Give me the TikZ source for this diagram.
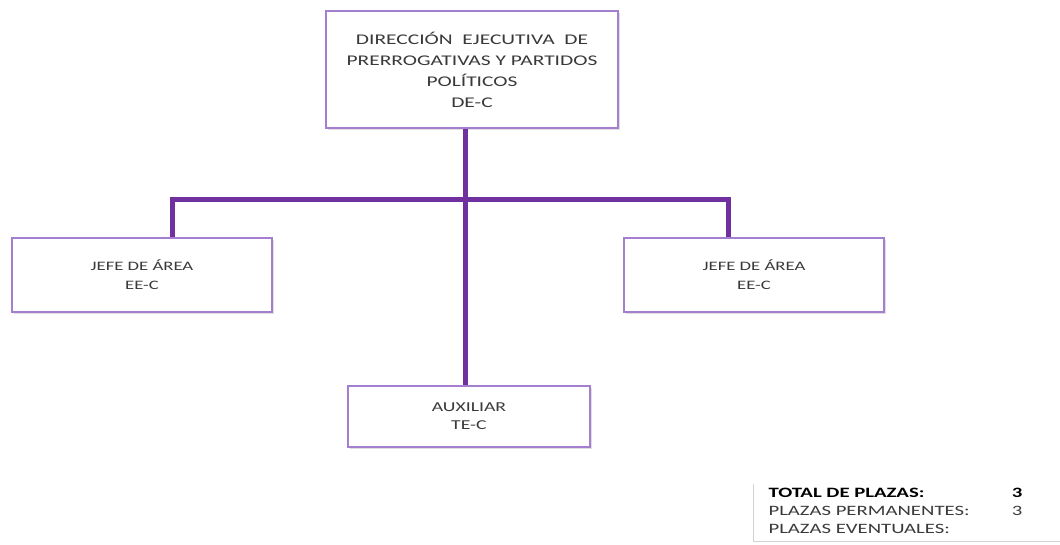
\documentclass[tikz,border=0pt]{standalone}
\usepackage{fontspec}
\setmainfont{Carlito}
\newfontfamily\widefont[FakeStretch=1.45]{Carlito}
\usetikzlibrary{shadows}
\definecolor{boxline}{HTML}{A57FCF}
\definecolor{conncol}{HTML}{7030A0}
\definecolor{txt}{HTML}{3A3A3A}
\tikzset{
  orgbox/.style={draw=boxline, line width=1.2pt, fill=white, align=center, text=txt,
    inner sep=2pt, drop shadow={opacity=0.25, shadow xshift=1.5pt, shadow yshift=-1.5pt}},
  conn/.style={draw=conncol, line width=5pt},
  sumtext/.style={font=\widefont\fontsize{14.3}{15}\selectfont, text=txt},
  sumbold/.style={font=\widefont\fontsize{14.3}{15}\selectfont\bfseries, text=black},
}
\begin{document}
\begin{tikzpicture}[x=1pt,y=-1pt]
\useasboundingbox (0,0) rectangle (1060,544);
\fill[white] (0,0) rectangle (1060,544);
\coordinate (spine) at (465,0);
\coordinate (lx) at (172,199);
\coordinate (rx) at (728,199);
\node[orgbox, minimum width=292pt, minimum height=117pt, font=\widefont\fontsize{14.8}{21}\selectfont] (top) at (472,69.5)
  {DIRECCIÓN \ EJECUTIVA \ DE\\PRERROGATIVAS Y PARTIDOS\\POLÍTICOS\\DE-C};
\node[orgbox, minimum width=260pt, minimum height=74pt, font=\widefont\fontsize{12.9}{19}\selectfont] (left) at (142,275) {JEFE DE ÁREA\\EE-C};
\node[orgbox, minimum width=260pt, minimum height=74pt, font=\widefont\fontsize{12.9}{19}\selectfont] (right) at (754,275) {JEFE DE ÁREA\\EE-C};
\node[orgbox, minimum width=242pt, minimum height=61pt, font=\widefont\fontsize{13.6}{18}\selectfont] (aux) at (469,416.5) {AUXILIAR\\TE-C};
\draw[conn] (top.south -| spine) -- (aux.north -| spine);
\draw[conn, line cap=butt] (left.north -| lx) -- (lx) -- (rx) -- (right.north -| rx);
% summary box
\draw[gray!35, line width=1pt] (753,484) -- (753,541) -- (1060,541);
\node[anchor=west, sumbold] (tot) at (765,493) {TOTAL DE PLAZAS:};
\node[anchor=west, sumtext] (perm) at (765,511) {PLAZAS PERMANENTES:};
\node[anchor=west, sumtext] (even) at (765,529) {PLAZAS EVENTUALES:};
\node[sumbold] (totn) at (1017,493) {3};
\node[sumtext] (permn) at (1017,511) {3};
\end{tikzpicture}
\end{document}
